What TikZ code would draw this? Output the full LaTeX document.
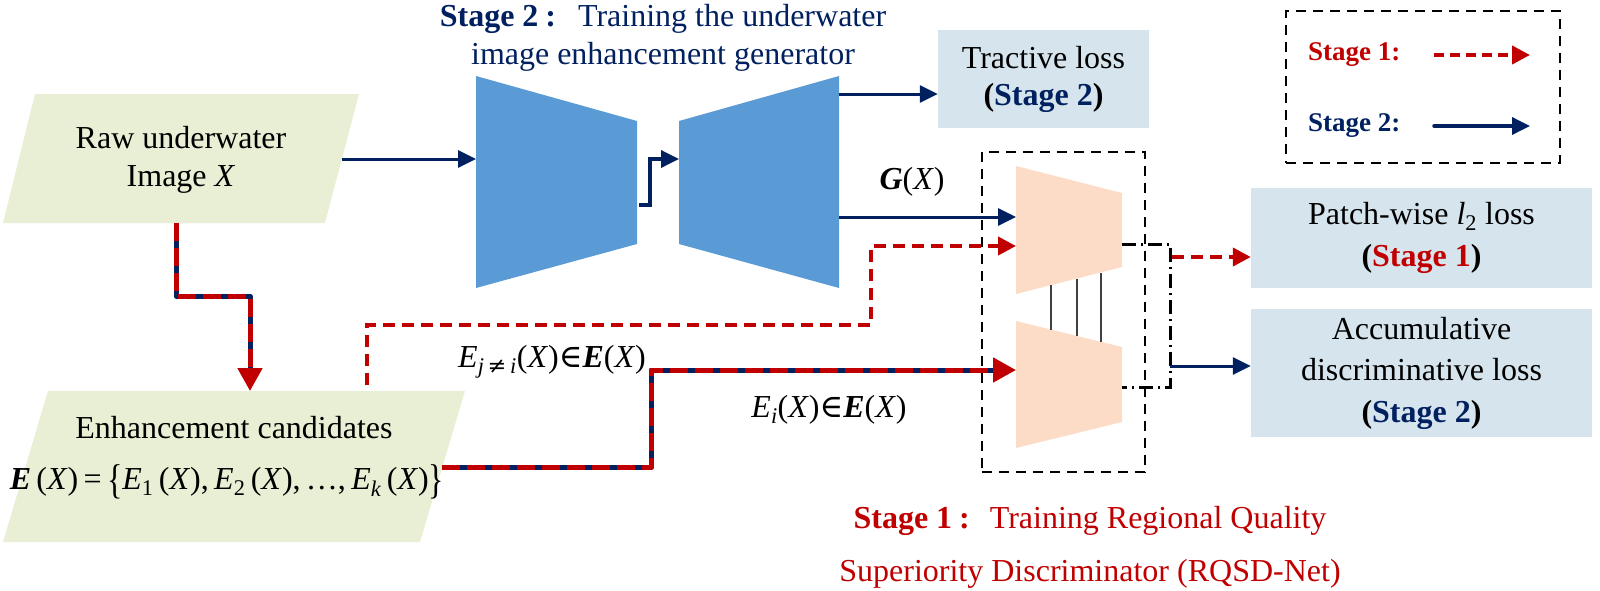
\documentclass[tikz,border=0pt]{standalone}
\usepackage{graphicx}
\usepackage{fontspec}
\setmainfont{Liberation Serif}
\newfontfamily\symfont{DejaVu Serif}
\usetikzlibrary{arrows.meta,calc}
\definecolor{navyc}{RGB}{0,32,96}
\definecolor{sred}{RGB}{192,0,0}
\definecolor{genblue}{RGB}{91,155,213}
\definecolor{pgreen}{RGB}{233,239,212}
\definecolor{peach}{RGB}{252,220,198}
\definecolor{lossblue}{RGB}{214,229,237}
\newcommand{\bigbrace}[1]{\raisebox{-4pt}{\scalebox{1}[1.3]{#1}}}
\begin{document}
\begin{tikzpicture}[x=1pt,y=-1pt,
  every node/.style={inner sep=0pt, align=center},
  txt/.style={font=\fontsize{32}{38}\selectfont},
  lossbox/.style={fill=lossblue, inner sep=0pt},
  navyline/.style={draw=navyc, line width=3pt, -{Triangle[length=18pt,width=17pt]}},
  reddash/.style={draw=sred, line width=4pt, dash pattern=on 12pt off 7pt, -{Triangle[length=18pt,width=18pt]}},
  mixbase/.style={draw=navyc, line width=5pt, line join=round, shorten >=16pt},
  mixtop/.style={draw=sred, line width=5pt, line join=round, dash pattern=on 18pt off 7pt, -{Triangle[length=23pt,width=24pt]}},
  boxdash/.style={draw=black, line width=2.5pt, dash pattern=on 10pt off 7pt},
  thinlink/.style={draw=black!75, line width=1.5pt},
  dashdot/.style={draw=black, line width=3pt, dash pattern=on 14pt off 5pt on 2pt off 5pt}
]
\useasboundingbox (0,0) rectangle (1600,590);

% ---------- input image ----------
\fill[pgreen] (35,94) -- (359,94) -- (325,223) -- (3,223) -- cycle;
\node[txt] (raw) at (181,160) {Raw underwater\\Image \textit{X}};
\coordinate (rawR) at (342,159);
\coordinate (rawB) at (176,223);
\coordinate (kA) at (176,296);

% ---------- enhancement candidates ----------
\fill[pgreen] (48,391) -- (465,391) -- (420,542) -- (3,542) -- cycle;
\node[txt] (enh) at (234,428) {Enhancement candidates};
\node[txt] (form) at (227,482) {\textbf{\textit{E}}\,(\textit{X})\,=\,\bigbrace{\{}\textit{E}\textsubscript{1}\,(\textit{X}),\,\textit{E}\textsubscript{2}\,(\textit{X}),\,\ldots,\,\textit{E}\textsubscript{\textit{k}}\,(\textit{X})\bigbrace{\}}};
\coordinate (enhTop) at (250,391);
\coordinate (enhT2) at (367,385);
\coordinate (enhR) at (442,467);

% ---------- generator ----------
\fill[genblue] (476,76) -- (637,121) -- (637,244) -- (476,288) -- cycle;
\fill[genblue] (679,121) -- (839,76) -- (839,288) -- (679,244) -- cycle;
\coordinate (encL) at (476,159);
\coordinate (encOut) at (639,205);
\coordinate (decIn) at (679,159);
\coordinate (decTop) at (839,94);
\coordinate (decG) at (839,217);

\node[txt, text=navyc] (t2) at (663,38) {\textbf{Stage 2}\hspace{7pt}\textbf{:}\hspace{22pt}Training the underwater\\image enhancement generator};

% ---------- tractive loss ----------
\node[lossbox, minimum width=211pt, minimum height=98pt, font=\fontsize{32}{37}\selectfont] (tract) at (1043.5,79) {Tractive loss\\\textbf{(\textcolor{navyc}{Stage 2})}};

% ---------- discriminator ----------
\node[boxdash, minimum width=163pt, minimum height=320pt] (rqsd) at (1063.5,312) {};
\fill[peach] (1016,166) -- (1122,193) -- (1122,267) -- (1016,294) -- cycle;
\fill[peach] (1016,321) -- (1122,347) -- (1122,422) -- (1016,448) -- cycle;
\draw[thinlink] (1051,285) -- (1051,330);
\draw[thinlink] (1077,279) -- (1077,336);
\draw[thinlink] (1101,273) -- (1101,342);
\coordinate (dUG) at (1016,217);
\coordinate (dUred) at (1016,246);
\coordinate (dLin) at (1016,370);
\coordinate (dUout) at (1122,244);
\coordinate (dLout) at (1122,387);
\coordinate (brR) at (1172,257);
\coordinate (brN) at (1170,366);

\node[txt] (gx) at (912,182) {\textbf{\textit{G}}(\textit{X})};
\node[txt] (lj) at (552,362) {\textit{E}\textsubscript{\textit{j}\,{\symfont ≠}\,\textit{i}}(\textit{X}){\symfont ∈}\textbf{\textit{E}}(\textit{X})};
\node[txt] (li) at (829,410) {\textit{E}\textsubscript{\textit{i}}(\textit{X}){\symfont ∈}\textbf{\textit{E}}(\textit{X})};

% ---------- loss boxes ----------
\node[lossbox, minimum width=341pt, minimum height=100pt, font=\fontsize{32}{42}\selectfont] (patch) at (1421.5,238) {Patch-wise \textit{l}\textsubscript{2} loss\\\textbf{(\textcolor{sred}{Stage 1})}};
\node[lossbox, minimum width=341pt, minimum height=128pt, font=\fontsize{32}{41.5}\selectfont] (accum) at (1421.5,373) {Accumulative\\discriminative loss\\\textbf{(\textcolor{navyc}{Stage 2})}};

% ---------- legend ----------
\node[boxdash, minimum width=274pt, minimum height=152pt] (legend) at (1423,87) {};
\node[anchor=west, font=\fontsize{27}{32}\selectfont\bfseries, text=sred] (lg1) at (1308,55) {Stage 1:};
\node[anchor=west, font=\fontsize{27}{32}\selectfont\bfseries, text=navyc] (lg2) at (1308,126) {Stage 2:};
\coordinate (lg1a) at (1434,55);
\coordinate (lg1b) at (1530,55);
\coordinate (lg2a) at (1434,126);
\coordinate (lg2b) at (1530,126);

% ---------- bottom title ----------
\node[font=\fontsize{32}{53}\selectfont, text=sred] (t1) at (1090,547) {\textbf{Stage 1}\hspace{7pt}\textbf{:}\hspace{20pt}Training Regional Quality\\Superiority Discriminator (RQSD-Net)};

% ---------- connectors ----------
\draw[navyline] (rawR) -- (encL);
\draw[navyline, line width=3.5pt] (encOut) -- ++(11,0) |- (decIn);
\draw[navyline] (decTop) -- (decTop -| tract.west);
\draw[navyline] (decG) -- (dUG);

\draw[mixbase] (rawB) -- (kA) -| (enhTop);
\draw[mixtop] (rawB) -- (kA) -| (enhTop);

\coordinate (kB) at (651,467);
\coordinate (kB2) at (651,370);
\draw[mixbase] (enhR) -- (kB) -- (kB2) -- (dLin);
\draw[mixtop] (enhR) -- (kB) -- (kB2) -- (dLin);

\coordinate (kC) at (871,325);
\draw[reddash] (enhT2) |- (kC) |- (dUred);

\draw[dashdot] (dUout) -| (1170,387) -- (dLout);
\draw[reddash] (brR) -- (brR -| patch.west);
\draw[navyline] (brN) -- (brN -| accum.west);

\draw[reddash, dash pattern=on 10pt off 6pt] (lg1a) -- (lg1b);
\draw[navyline, line width=3.5pt, line cap=round] (lg2a) -- (lg2b);
\end{tikzpicture}
\end{document}
